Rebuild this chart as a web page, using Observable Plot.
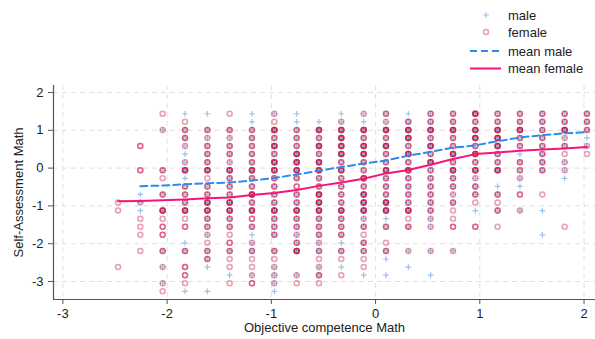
<!DOCTYPE html>
<html><head><meta charset="utf-8">
<script src="https://cdn.jsdelivr.net/npm/d3@7"></script>
<script src="https://cdn.jsdelivr.net/npm/@observablehq/plot@0.6"></script>
<style>
body{margin:0;background:#fff;}
#chart{width:595px;height:339px;}
</style></head><body><div id="chart"></div>
<script>
// Objective competence (x) grid values of the columns
const colX = [-2.471, -2.257, -2.043, -1.828, -1.614, -1.400, -1.186, -0.971, -0.757, -0.543, -0.329,
              -0.114, 0.100, 0.314, 0.528, 0.743, 0.957, 1.171, 1.385, 1.600, 1.814, 2.028];
// Self-assessment (y) grid values of the rows, top to bottom
const rowY = [1.438, 1.225, 1.011, 0.798, 0.584, 0.371, 0.157, -0.057, -0.270, -0.484, -0.697, -0.911,
              -1.124, -1.338, -1.551, -1.765, -1.978, -2.192, -2.405, -2.619, -2.832, -3.046, -3.259];
// Observations per cell, one string per column, one character per row (see cellCounts)
const cellMarks = [
  "...........ff......f...",
  "....F..F..mlmfff.f.....",
  "f.l....bf.b.dfFF.b.l.lf",
  "mfbblmldmbbbdfF.mb.FFfm",
  "m.blbbbdfbbddbblfbbm..m",
  "f.blbbldbbbddbbfFbffmf.",
  "mmbbbbbdbbdbdFbmlbfflF.",
  "lfdbdbddbbbbdbbb.bflllm",
  "mmbbbdddbFbbdbblbd..lf.",
  ".mdbdbddbbdddbbblbflbf.",
  "mlddddbdbbbbdbbbmbfmf..",
  "lmdbddbbdbdddlbfbbffm..",
  "bldbdbbdbbbddmb.fbm.m..",
  "mbddbdbdbbbbdfb..l.m...",
  "bbdbdbdbbbbbbll..l..m..",
  "bbdbbdbdbblbffF..l.....",
  "dbddbdbdlbbfm.F........",
  "bbdddbbd.mbfb.f........",
  "bbdbbmbblmF.l..........",
  "bbbbbbbb..f.m..m.......",
  "bbdlbfllm.....f........",
  "bbbmlf................."
];
// [female count, male count] for each cell character
const cellCounts = {".": [0, 0], f: [1, 0], F: [2, 0], m: [0, 1], l: [1, 1], b: [2, 1], d: [4, 2]};
const maleMean = [null, -0.48, -0.46, -0.43, -0.40, -0.38, -0.33, -0.26, -0.17, -0.07, 0.03,
                  0.12, 0.20, 0.33, 0.43, 0.54, 0.60, 0.71, 0.81, 0.87, 0.92, 0.95];
const femaleMean = [-0.88, -0.87, -0.85, -0.83, -0.80, -0.78, -0.71, -0.66, -0.58, -0.47, -0.38,
                    -0.28, -0.14, -0.05, 0.09, 0.24, 0.37, 0.41, 0.46, 0.49, 0.52, 0.56];
const xTicks = [-3, -2, -1, 0, 1, 2];
const yTicks = [-3, -2, -1, 0, 1, 2];
const legendLabels = ["male", "female", "mean male", "mean female"];
const xTitle = "Objective competence Math";
const yTitle = "Self-Assessment Math";

const females = [], males = [];
cellMarks.forEach((col, i) => [...col].forEach((c, j) => {
  const [nf, nm] = cellCounts[c];
  for (let k = 0; k < nf; k++) females.push({x: colX[i], y: rowY[j]});
  for (let k = 0; k < nm; k++) males.push({x: colX[i], y: rowY[j]});
}));
const means = colX.map((x, i) => ({x, male: maleMean[i] ?? undefined, female: femaleMean[i]}));

const FONT = "'Liberation Sans', Arial, Helvetica, sans-serif";
const maleColor = "#3a86d6", femaleColor = "#c20c3c";
const meanMaleColor = "#2b8cee", meanFemaleColor = "#f5157a";
const axisColor = "#555";
const xDomain = [-3.09, 2.11], yDomain = [-3.476, 2.185];
const fmt = d => String(d);
const plusSize = 12;   // d3 symbol area of the "+" marker

const plot = Plot.plot({
  width: 595, height: 339,
  marginLeft: 53, marginRight: 0, marginTop: 85, marginBottom: 40,
  style: {fontFamily: FONT, fontSize: "13px", color: "#222", background: "white", overflow: "visible"},
  x: {domain: xDomain},
  y: {domain: yDomain},
  marks: [
    Plot.gridX(xTicks, {stroke: "#e0e0e0", strokeOpacity: 1, strokeDasharray: "5,4"}),
    Plot.gridY(yTicks, {stroke: "#e0e0e0", strokeOpacity: 1, strokeDasharray: "5,4"}),
    Plot.dot(males, {x: "x", y: "y", symbol: "plus", r: Math.sqrt(plusSize / Math.PI), stroke: maleColor, strokeOpacity: 0.5, strokeWidth: 1.2}),
    Plot.dot(females, {x: "x", y: "y", symbol: "circle", r: 2.5, fill: "none", stroke: femaleColor, strokeOpacity: 0.4, strokeWidth: 1.5}),
    Plot.line(means, {x: "x", y: "male", stroke: meanMaleColor, strokeWidth: 2, strokeDasharray: "7,4"}),
    Plot.line(means, {x: "x", y: "female", stroke: meanFemaleColor, strokeWidth: 2}),
    Plot.ruleX([xDomain[0]], {stroke: axisColor, strokeWidth: 1.2}),
    Plot.ruleY([yDomain[0]], {stroke: axisColor, strokeWidth: 1.2}),
    Plot.axisX(xTicks, {tickSize: 5, tickPadding: 4, tickFormat: fmt, label: null, stroke: axisColor, fill: "#222"}),
    Plot.axisY(yTicks, {tickSize: 5, tickPadding: 5, tickFormat: fmt, label: null, stroke: axisColor, fill: "#222"}),
    Plot.text([xTitle], {frameAnchor: "bottom", dy: 32, fontSize: 13, fill: "#222", textAnchor: "middle"}),
    Plot.text([yTitle], {frameAnchor: "left", dx: -35, rotate: -90, fontSize: 13, fill: "#222", textAnchor: "middle"})
  ]
});

// legend (top right, above the plot frame)
const svg = d3.select(plot);
const lg = svg.append("g").attr("font-family", FONT).attr("font-size", 13).attr("fill", "#222").attr("text-anchor", "start");
const ly = [15, 32, 51, 68.5];
lg.append("path").attr("d", d3.symbol(d3.symbolPlus, plusSize)()).attr("transform", `translate(486,${ly[0]})`)
  .attr("stroke", maleColor).attr("stroke-opacity", 0.5).attr("stroke-width", 1.2).attr("fill", "none");
lg.append("circle").attr("cx", 486).attr("cy", ly[1]).attr("r", 2.5).attr("fill", "none")
  .attr("stroke", femaleColor).attr("stroke-opacity", 0.4).attr("stroke-width", 1.5);
lg.append("line").attr("x1", 470).attr("x2", 501).attr("y1", ly[2]).attr("y2", ly[2])
  .attr("stroke", meanMaleColor).attr("stroke-width", 2).attr("stroke-dasharray", "7,4");
lg.append("line").attr("x1", 470).attr("x2", 501).attr("y1", ly[3]).attr("y2", ly[3])
  .attr("stroke", meanFemaleColor).attr("stroke-width", 2);
legendLabels.forEach((t, i) => lg.append("text").attr("x", 508).attr("y", ly[i]).attr("dy", "0.35em").attr("text-anchor", "start").text(t));

document.getElementById("chart").appendChild(plot);
</script>
</body></html>
